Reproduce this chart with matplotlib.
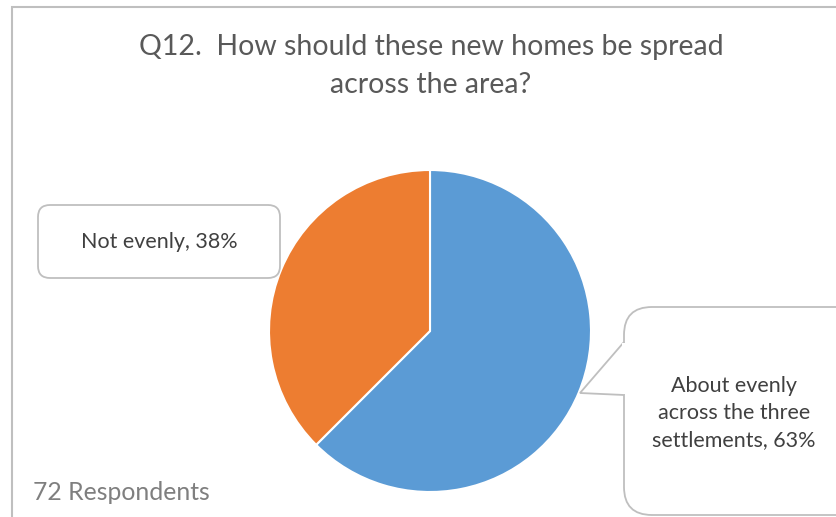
import numpy as np
import matplotlib.pyplot as plt
from matplotlib.patches import FancyBboxPatch, Rectangle, Polygon

plt.rcParams['font.family'] = ['Lato', 'DejaVu Sans']

# survey data
categories = ['About evenly\nacross the three\nsettlements', 'Not evenly']
shares = [62.5, 37.5]
pct_labels = ['63%', '38%']
respondents = 72
colors = ['#5B9BD5', '#ED7D31']

W, H = 836, 517
fig = plt.figure(figsize=(W / 100, H / 100), dpi=100)
ax = fig.add_axes([0, 0, 1, 1])

def py(y):
    # pixel row -> data y
    return H - y

# chart frame
ax.add_patch(Rectangle((12, py(530)), 840, 523, fill=False, edgecolor='#BFBFBF', lw=1.5))

ax.text(431, py(47), 'Q12.  How should these new homes be spread', ha='center', va='center',
        fontsize=20.5, color='#595959')
ax.text(431, py(85), 'across the area?', ha='center', va='center', fontsize=20.5, color='#595959')

ax.pie(shares, colors=colors, startangle=90, counterclock=False, center=(430, py(331)),
       radius=161, wedgeprops=dict(edgecolor='white', linewidth=1.5), frame=True)
ax.set_xlim(0, W)
ax.set_ylim(0, H)
ax.set_aspect('equal')
ax.axis('off')

# left callout
ax.add_patch(FancyBboxPatch((38, py(278)), 242, 73, boxstyle='round,pad=0,rounding_size=12',
                            facecolor='white', edgecolor='#BFBFBF', lw=1.3))
ax.text(159, py(242), f'{categories[1]}, {pct_labels[1]}', ha='center', va='center',
        fontsize=15.5, color='#404040')

# right callout with pointer
ax.add_patch(FancyBboxPatch((624, py(515)), 240, 208, boxstyle='round,pad=0,rounding_size=28',
                            facecolor='white', edgecolor='#BFBFBF', lw=1.3))
ax.add_patch(Polygon([(624, py(342)), (580, py(393)), (624, py(395))], closed=False,
                     facecolor='white', edgecolor='#BFBFBF', lw=1.3))
ax.add_patch(Rectangle((622, py(394)), 4, 51, facecolor='white', edgecolor='none'))
ax.text(734, py(413), f'{categories[0]}, {pct_labels[0]}', ha='center', va='center',
        fontsize=15.5, color='#404040', linespacing=1.45)

ax.text(33, py(493), f'{respondents} Respondents', ha='left', va='center', fontsize=17.8,
        color='#7F7F7F')

fig.savefig('out.png', dpi=100)
